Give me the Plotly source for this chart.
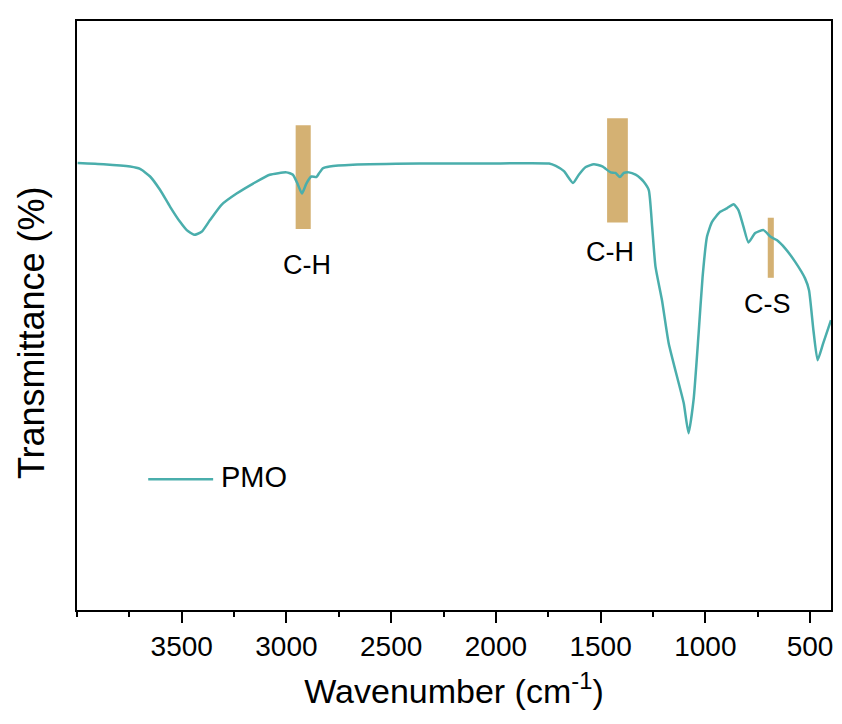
import plotly.graph_objects as go

# Spectrum (wavenumber in cm^-1, transmittance in arbitrary %)
wavenumber = [3997, 3873, 3746, 3699, 3651, 3603, 3556, 3508, 3476, 3441, 3405, 3365,
              3310, 3238, 3159, 3080, 3000, 2969, 2945, 2926, 2905, 2881, 2857, 2845,
              2826, 2794, 2683, 2365, 2048, 1746, 1714, 1675, 1632, 1604, 1571, 1532,
              1492, 1452, 1429, 1408, 1389, 1365, 1333, 1310, 1294, 1270, 1254, 1238,
              1207, 1175, 1127, 1103, 1080, 1056, 1032, 1013, 992, 968, 929, 897, 865,
              842, 818, 794, 762, 722, 690, 659, 619, 571, 524, 505, 484, 464, 437, 400]
transmittance = [75.9, 75.7, 75.3, 74.9, 73.6, 71.3, 68.5, 65.9, 64.5, 63.7, 64.2, 66.2,
                 68.8, 70.7, 72.4, 73.9, 74.3, 73.9, 72.2, 70.7, 72.4, 73.6, 73.5, 74.1,
                 75.0, 75.3, 75.6, 75.8, 75.8, 75.8, 75.4, 74.5, 72.5, 73.9, 75.2, 75.7,
                 75.3, 74.3, 74.2, 73.5, 74.2, 74.3, 73.9, 73.3, 72.7, 71.3, 65.1, 58.3,
                 52.6, 45.3, 38.5, 35.1, 30.0, 35.7, 47.0, 56.6, 63.4, 65.9, 67.6, 68.2, 68.9,
                 67.9, 65.1, 62.4, 64.0, 64.5, 63.4, 62.8, 61.4, 59.1, 56.3, 54.3, 47.5, 42.4, 45.3, 49.2]

series_name = "PMO"

# Band markers: label, x-start, x-end, y-bottom, y-top, label x, label y
band_labels = ["C-H", "C-H", "C-S"]
band_x0 = [2956, 1469, 702]
band_x1 = [2884, 1370, 673]
band_y0 = [64.7, 65.8, 56.4]
band_y1 = [82.3, 83.5, 66.6]
label_x = [2903, 1457, 702]
label_y = [58.6, 60.7, 52.0]

x_tick_vals = [3500, 3000, 2500, 2000, 1500, 1000, 500]

LINE_COLOR = "#4aaeac"
BAND_COLOR = "#d4b173"
FONT = "Arial, Liberation Sans, sans-serif"

fig = go.Figure()
fig.add_trace(go.Scatter(
    x=wavenumber, y=transmittance, mode="lines", name=series_name,
    line=dict(color=LINE_COLOR, width=2.5, shape="spline", smoothing=0.5),
    showlegend=False,
))

shapes = []
annotations = []
for lab, x0, x1, y0, y1, lx, ly in zip(band_labels, band_x0, band_x1, band_y0, band_y1, label_x, label_y):
    shapes.append(dict(type="rect", xref="x", yref="y", x0=x0, x1=x1, y0=y0, y1=y1,
                       fillcolor=BAND_COLOR, line=dict(width=0), layer="below"))
    annotations.append(dict(x=lx, y=ly, xref="x", yref="y", text=lab, showarrow=False,
                            font=dict(family=FONT, size=27, color="black")))

# legend sample (manual, to match the long line sample)
shapes.append(dict(type="line", xref="x", yref="y", x0=3660, x1=3350, y0=22.2, y1=22.2,
                   line=dict(color=LINE_COLOR, width=2.5)))
annotations.append(dict(x=3322, y=22.5, xref="x", yref="y", text=series_name, showarrow=False,
                        xanchor="left", font=dict(family=FONT, size=29, color="black")))

# y-axis title (placed as in the reference, slightly below the plot centre)
annotations.append(dict(x=31, y=333, xref="paper", yref="paper", text="Transmittance (%)",
                        showarrow=False, textangle=-90, xanchor="center", yanchor="middle",
                        font=dict(family=FONT, size=36, color="black")))

fig.update_layout(
    width=842, height=724,
    margin=dict(l=77, r=9, t=21, b=114),
    paper_bgcolor="white", plot_bgcolor="white",
    font=dict(family=FONT, color="black"),
    shapes=shapes,
    showlegend=False,
)
# convert pixel positions of the y-title to paper coords
plot_w = 842 - 77 - 9
plot_h = 724 - 21 - 114
annotations[-1]["x"] = (31 - 77) / plot_w
annotations[-1]["y"] = (610 - 333) / plot_h
fig.update_layout(annotations=annotations)

fig.update_xaxes(
    range=[4000, 400], tickvals=x_tick_vals,
    ticks="outside", ticklen=11, tickwidth=1.5, tickcolor="black",
    minor=dict(ticks="outside", ticklen=5, tickwidth=1.5, tickcolor="black", dtick=250, tick0=0),
    showline=True, linecolor="black", linewidth=1.5, mirror=True,
    showgrid=False, zeroline=False,
    tickfont=dict(family=FONT, size=28, color="black"),
    title=dict(text="Wavenumber (cm<sup>-1</sup>)", font=dict(family=FONT, size=34, color="black"), standoff=18),
)
fig.update_yaxes(
    range=[0, 100], showticklabels=False, ticks="",
    showline=True, linecolor="black", linewidth=1.5, mirror=True,
    showgrid=False, zeroline=False,
)

fig.write_html("out.html")
